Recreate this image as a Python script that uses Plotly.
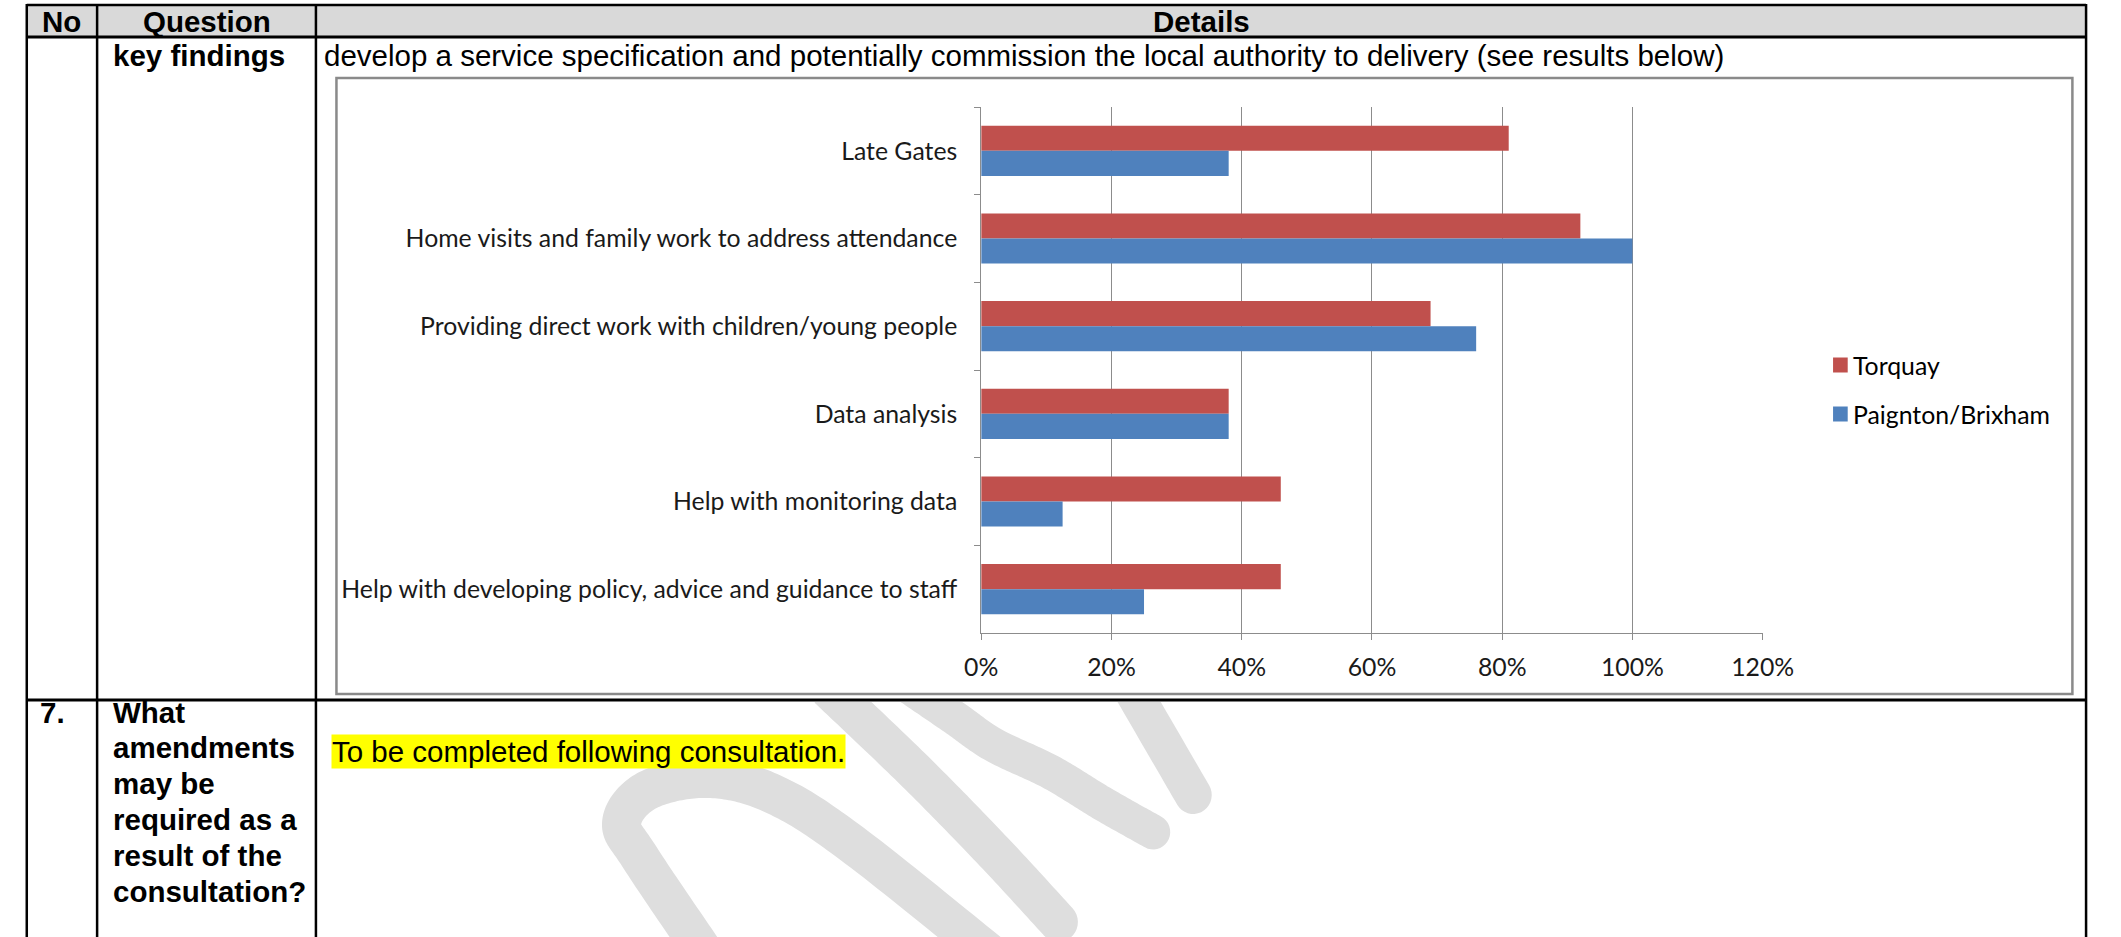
import numpy as np
import plotly.graph_objects as go

FIG_W, FIG_H = 2121, 937

# ---------------- chart data ----------------
categories = [
    "Late Gates",
    "Home visits and family work to address attendance",
    "Providing direct work with children/young people",
    "Data analysis",
    "Help with monitoring data",
    "Help with developing policy, advice and guidance to staff",
]
torquay = [0.81, 0.92, 0.69, 0.38, 0.46, 0.46]
paignton_brixham = [0.38, 1.00, 0.76, 0.38, 0.125, 0.25]
series_names = ["Torquay", "Paignton/Brixham"]
x_tickvals = [0.0, 0.2, 0.4, 0.6, 0.8, 1.0, 1.2]

# ---------------- table text ----------------
header_labels = ["No", "Question", "Details"]
row1_question = "key findings"
row1_details = ("develop a service specification and potentially commission the local "
                "authority to delivery (see results below)")
row2_number = "7."
row2_question_lines = ["What", "amendments", "may be", "required as a",
                       "result of the", "consultation?"]
row2_details = "To be completed following consultation."

# ---------------- styling ----------------
SERIES_COLORS = ["#C0504D", "#4F81BD"]
AXIS_GRAY = "#8C8C8C"
TABLE_FONT = "Liberation Sans, Arial, sans-serif"
CHART_FONT = "Lato, Carlito, Calibri, sans-serif"
TABLE_SIZE = 29.5
CHART_SIZE = 24.8


def fx(px):
    return px / FIG_W


def fy(py):
    return 1 - py / FIG_H


# table geometry (pixels)
COLS = [10, 82, 306, 2118]
TOP, HEAD_BOTTOM, ROW_SEP = 5, 37, 700
# embedded chart geometry (pixels)
FRAME = (327, 78, 2104, 694)
PLOT_L, PLOT_R, PLOT_T, PLOT_B = 987, 1787, 107, 633

fig = go.Figure()

for name, vals, col in zip(series_names, [torquay, paignton_brixham], SERIES_COLORS):
    fig.add_trace(go.Bar(
        y=categories, x=vals, orientation="h", name=name,
        marker=dict(color=col, line=dict(width=0)),
        showlegend=False, hoverinfo="skip",
    ))

shapes = []
annotations = []


# ---------------- watermark fragments ----------------
def _catmull_rom(points, samples=24):
    p = np.asarray(points, float)
    p = np.vstack([p[0], p, p[-1]])
    out = []
    for i in range(1, len(p) - 2):
        p0, p1, p2, p3 = p[i - 1], p[i], p[i + 1], p[i + 2]
        for t in np.linspace(0, 1, samples, endpoint=False):
            out.append(0.5 * (2 * p1 + (-p0 + p2) * t
                              + (2 * p0 - 5 * p1 + 4 * p2 - p3) * t * t
                              + (-p0 + 3 * p1 - 3 * p2 + p3) * t ** 3))
    out.append(p[-2])
    return np.array(out)


def _stroke_outline(points, width, round_start, round_end):
    c = _catmull_rom(points)
    d = np.gradient(c, axis=0)
    d /= np.linalg.norm(d, axis=1, keepdims=True)
    n = np.stack([-d[:, 1], d[:, 0]], axis=1)
    hw = width / 2
    left = c + n * hw
    right = c - n * hw
    phi = np.linspace(0, np.pi, 18)[1:-1]
    poly = list(left)
    if round_end:
        poly += list(c[-1] + hw * (np.cos(phi)[:, None] * n[-1] + np.sin(phi)[:, None] * d[-1]))
    poly += list(right[::-1])
    if round_start:
        poly += list(c[0] + hw * (np.cos(phi)[:, None] * (-n[0]) + np.sin(phi)[:, None] * (-d[0])))
    return np.array(poly)


def _clip_below(poly, ymin):
    out = []
    m = len(poly)
    for i in range(m):
        a, b = poly[i], poly[(i + 1) % m]
        ina, inb = a[1] >= ymin, b[1] >= ymin
        if ina:
            out.append(a)
        if ina != inb:
            t = (ymin - a[1]) / (b[1] - a[1])
            out.append(a + t * (b - a))
    return np.array(out)


WATERMARK_STROKES = [
    # (centre line, width, round start, round end)
    ([(705, 955), (638, 858), (619, 822), (646, 790), (708, 778), (774, 794),
      (855, 844), (1010, 965)], 40, False, False),
    ([(830, 688), (920, 772), (1000, 852), (1066, 922)], 40, False, True),
    ([(912, 686), (960, 718), (1000, 745), (1058, 772), (1112, 804), (1163, 832)],
     35, False, True),
    ([(1138, 684), (1204, 795)], 38, False, True),
]
for pts, w, rs, re_ in WATERMARK_STROKES:
    poly = _clip_below(_stroke_outline(pts, w, rs, re_), ROW_SEP + 2)
    path = "M " + " L ".join(f"{fx(x):.5f},{fy(y):.5f}" for x, y in poly) + " Z"
    shapes.append(dict(type="path", xref="paper", yref="paper", path=path,
                       fillcolor="#DEDEDE", line=dict(width=0), layer="below"))

# ---------------- table ----------------
shapes.append(dict(type="rect", xref="paper", yref="paper",
                   x0=fx(COLS[0]), x1=fx(COLS[-1]), y0=fy(TOP), y1=fy(HEAD_BOTTOM),
                   fillcolor="#D9D9D9", line=dict(width=0), layer="below"))
for y, w in [(TOP, 2.5), (HEAD_BOTTOM, 3), (ROW_SEP, 3)]:
    shapes.append(dict(type="line", xref="paper", yref="paper",
                       x0=fx(COLS[0]), x1=fx(COLS[-1]), y0=fy(y), y1=fy(y),
                       line=dict(color="black", width=w)))
for x in COLS:
    shapes.append(dict(type="line", xref="paper", yref="paper",
                       x0=fx(x), x1=fx(x), y0=fy(TOP - 1), y1=fy(FIG_H + 5),
                       line=dict(color="black", width=2.5)))

# chart frame
shapes.append(dict(type="rect", xref="paper", yref="paper",
                   x0=fx(FRAME[0]), x1=fx(FRAME[2]), y0=fy(FRAME[1]), y1=fy(FRAME[3]),
                   line=dict(color="#8A8A8A", width=2.5), fillcolor="rgba(0,0,0,0)"))


def text(x, y, s, size=TABLE_SIZE, family=TABLE_FONT, anchor="left", **kw):
    annotations.append(dict(xref="paper", yref="paper", x=fx(x), y=fy(y), text=s,
                            showarrow=False, xanchor=anchor, yanchor="middle",
                            font=dict(family=family, size=size, color="black"), **kw))


header_centres = [(COLS[0] + COLS[1]) / 2, (COLS[1] + COLS[2]) / 2, (COLS[2] + COLS[3]) / 2]
for cx, lab in zip(header_centres, header_labels):
    text(cx, 21, f"<b>{lab}</b>", anchor="center")

text(96, 55.5, f"<b>{row1_question}</b>")
text(312, 55.5, row1_details)

text(22, 712, f"<b>{row2_number}</b>")
for i, line in enumerate(row2_question_lines):
    text(96, 712 + 35.8 * i, f"<b>{line}</b>")
text(321, 751, row2_details, bgcolor="#FFFF00", borderpad=0)

# ---------------- legend ----------------
legend_rows = [365, 414]
for name, col, yc in zip(series_names, SERIES_COLORS, legend_rows):
    shapes.append(dict(type="rect", xref="paper", yref="paper",
                       x0=fx(1859), x1=fx(1874), y0=fy(yc - 7.5), y1=fy(yc + 7.5),
                       fillcolor=col, line=dict(width=0)))
    text(1877, yc, name, size=CHART_SIZE, family=CHART_FONT)

fig.update_layout(
    width=FIG_W, height=FIG_H, autosize=False,
    margin=dict(l=0, r=0, t=0, b=0, pad=0),
    paper_bgcolor="white", plot_bgcolor="white",
    barmode="group", bargap=1.5 / 3.5, bargroupgap=0,
    showlegend=False,
    xaxis=dict(domain=[fx(PLOT_L), fx(PLOT_R)], range=[0, 1.2], tickvals=x_tickvals,
               tickformat=".0%", showgrid=True, gridcolor=AXIS_GRAY, gridwidth=1,
               showline=True, linecolor=AXIS_GRAY, linewidth=1, zeroline=False,
               ticks="outside", ticklen=6, tickcolor=AXIS_GRAY, ticklabelstandoff=6,
               tickfont=dict(family=CHART_FONT, size=CHART_SIZE, color="#1A1A1A"),
               fixedrange=True),
    yaxis=dict(domain=[fy(PLOT_B), fy(PLOT_T)], type="category",
               categoryorder="array", categoryarray=categories, autorange="reversed",
               showgrid=False, showline=True, linecolor=AXIS_GRAY, linewidth=1,
               ticks="outside", tickson="boundaries", ticklen=6, tickcolor=AXIS_GRAY,
               ticklabelstandoff=18,
               tickfont=dict(family=CHART_FONT, size=CHART_SIZE, color="#1A1A1A"),
               fixedrange=True),
    shapes=shapes,
    annotations=annotations,
)

fig.write_html("out.html", config={"displayModeBar": False})
